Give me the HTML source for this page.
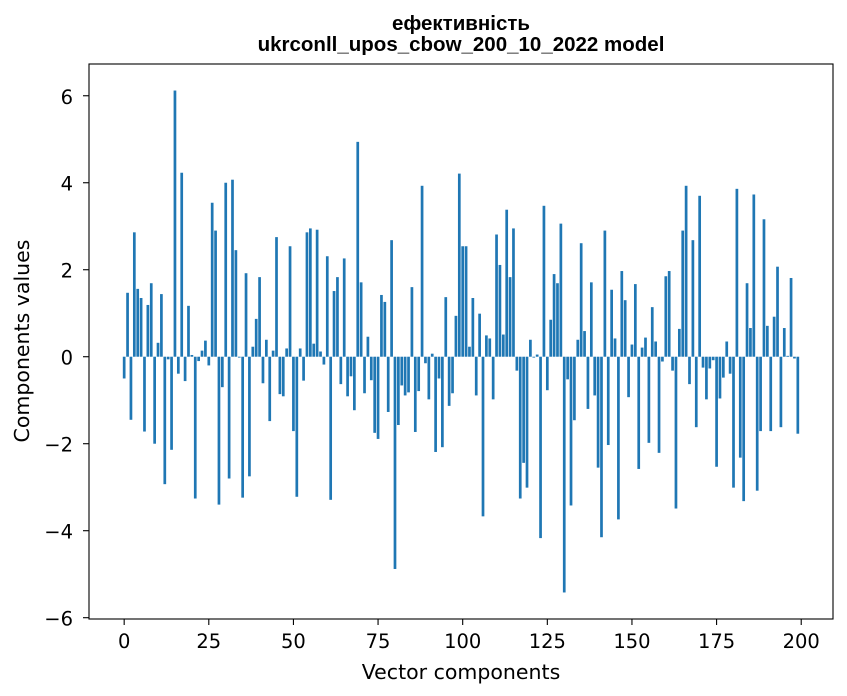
<!DOCTYPE html>
<html><head><meta charset="utf-8">
<style>
html,body{margin:0;padding:0;background:#fff;}
svg{display:block;font-family:"DejaVu Sans","Liberation Sans",sans-serif;}
</style></head>
<body>
<svg id="chart" width="847" height="696" viewBox="0 0 847 696" xmlns="http://www.w3.org/2000/svg">
<rect width="847" height="696" fill="#fff"/>
<text x="461" y="30" text-anchor="middle" font-size="20.5" font-weight="bold" font-family="Liberation Sans, sans-serif">ефективність</text>
<text x="461" y="51" text-anchor="middle" font-size="20.5" font-weight="bold" font-family="Liberation Sans, sans-serif">ukrconll_upos_cbow_200_10_2022 model</text>
<g id="bars"></g>
<g id="axes"></g>
<text x="461" y="679" text-anchor="middle" font-size="20.5">Vector components</text>
<text x="29" y="341" text-anchor="middle" font-size="20.5" transform="rotate(-90 29 341)">Components values</text>
</svg>
<script>
const values = [
-0.50,1.47,-1.45,2.86,1.56,1.35,-1.72,1.19,1.69,-2.0,
0.32,1.44,-2.93,-0.06,-2.14,6.12,-0.39,4.23,-0.56,1.17,
0.04,-3.26,-0.1,0.14,0.37,-0.2,3.54,2.9,-3.4,-0.7,
4.0,-2.8,4.07,2.45,-0.02,-3.24,1.92,-2.75,0.23,0.87,
1.83,-0.61,0.39,-1.48,0.14,2.75,-0.86,-0.91,0.19,2.54,
-1.71,-3.22,0.19,-0.55,2.86,2.95,0.3,2.92,0.12,-0.18,
2.31,-3.29,1.51,1.83,-0.63,2.26,-0.91,-0.45,-1.23,4.94,
1.71,-0.84,0.46,-0.54,-1.75,-1.89,1.42,1.26,-1.27,2.68,
-4.88,-1.57,-0.66,-0.89,-0.82,1.6,-1.73,-0.79,3.93,-0.15,
-0.98,0.07,-2.19,-0.5,-2.08,1.37,-1.13,-0.84,0.94,4.21,
2.54,2.54,0.23,1.35,-0.89,0.99,-3.67,0.49,0.42,-0.98,
2.81,2.11,0.51,3.38,1.83,2.95,-0.32,-3.26,-2.44,-3.01,
0.39,-0.02,0.05,-4.17,3.47,-0.77,0.85,1.9,1.69,3.06,
-5.42,-0.52,-3.42,-1.46,0.39,2.61,0.59,-1.2,1.71,-0.89,
-2.55,-4.15,2.9,-2.03,1.54,0.42,-3.74,1.97,1.3,-0.93,
0.28,1.67,-2.58,0.21,0.44,-1.98,1.14,0.35,-2.21,-0.11,
1.85,1.97,-0.32,-3.49,0.64,2.9,3.93,-0.63,2.68,-1.62,
3.7,-0.25,-0.98,-0.27,-0.08,-2.53,-0.96,-0.48,0.35,-0.39,
-3.01,3.86,-2.32,-3.32,1.69,0.66,3.73,-3.08,-1.71,3.16,
0.71,-1.71,0.92,2.07,-1.62,0.66,0.02,1.81,-0.04,-1.77
];
const xTicks = [0,25,50,75,100,125,150,175,200];
const yTicks = [-6,-4,-2,0,2,4,6];
const yLimits = [-6.03, 6.73];

const NS = "http://www.w3.org/2000/svg";
const L = 89, R = 833, T = 64, B = 619;
const n = values.length;
const xMin = -0.4 - (n - 0.2) * 0.05, xMax = (n - 1 + 0.4) + (n - 0.2) * 0.05;
const yMin = yLimits[0], yMax = yLimits[1];
function xs(v){ return L + (v - xMin) / (xMax - xMin) * (R - L); }
function ys(v){ return B - (v - yMin) / (yMax - yMin) * (B - T); }

const bars = document.getElementById('bars');
values.forEach((v, i) => {
  const r = document.createElementNS(NS, 'rect');
  const x0 = xs(i - 0.4), x1 = xs(i + 0.4);
  const y0 = ys(Math.max(v, 0)), y1 = ys(Math.min(v, 0));
  r.setAttribute('x', x0);
  r.setAttribute('y', y0);
  r.setAttribute('width', x1 - x0);
  r.setAttribute('height', Math.max(y1 - y0, 0.3));
  r.setAttribute('fill', '#1f77b4');
  
  
  bars.appendChild(r);
});

const axes = document.getElementById('axes');
const frame = document.createElementNS(NS, 'rect');
frame.setAttribute('x', L); frame.setAttribute('y', T);
frame.setAttribute('width', R - L); frame.setAttribute('height', B - T);
frame.setAttribute('fill', 'none'); frame.setAttribute('stroke', '#000'); frame.setAttribute('stroke-width', '1.1');


axes.appendChild(frame);

xTicks.forEach(t => {
  const x = xs(t);
  const l = document.createElementNS(NS, 'line');
  l.setAttribute('x1', x); l.setAttribute('x2', x); l.setAttribute('y1', B); l.setAttribute('y2', B + 6);
  l.setAttribute('stroke', '#000'); l.setAttribute('stroke-width', '1.1');
  
  
  axes.appendChild(l);
  const tx = document.createElementNS(NS, 'text');
  tx.setAttribute('x', x); tx.setAttribute('y', B + 29);
  tx.setAttribute('text-anchor', 'middle'); tx.setAttribute('font-size', '19.5');
  tx.textContent = String(t);
  
  
  axes.appendChild(tx);
});
yTicks.forEach(t => {
  const y = ys(t);
  const l = document.createElementNS(NS, 'line');
  l.setAttribute('x1', L - 6); l.setAttribute('x2', L); l.setAttribute('y1', y); l.setAttribute('y2', y);
  l.setAttribute('stroke', '#000'); l.setAttribute('stroke-width', '1.1');
  
  
  axes.appendChild(l);
  const tx = document.createElementNS(NS, 'text');
  tx.setAttribute('x', L - 16); tx.setAttribute('y', y + 8);
  tx.setAttribute('text-anchor', 'end'); tx.setAttribute('font-size', '19.5');
  tx.textContent = t < 0 ? '\u2212' + Math.abs(t) : String(t);
  
  
  axes.appendChild(tx);
});
</script>
</body></html>
